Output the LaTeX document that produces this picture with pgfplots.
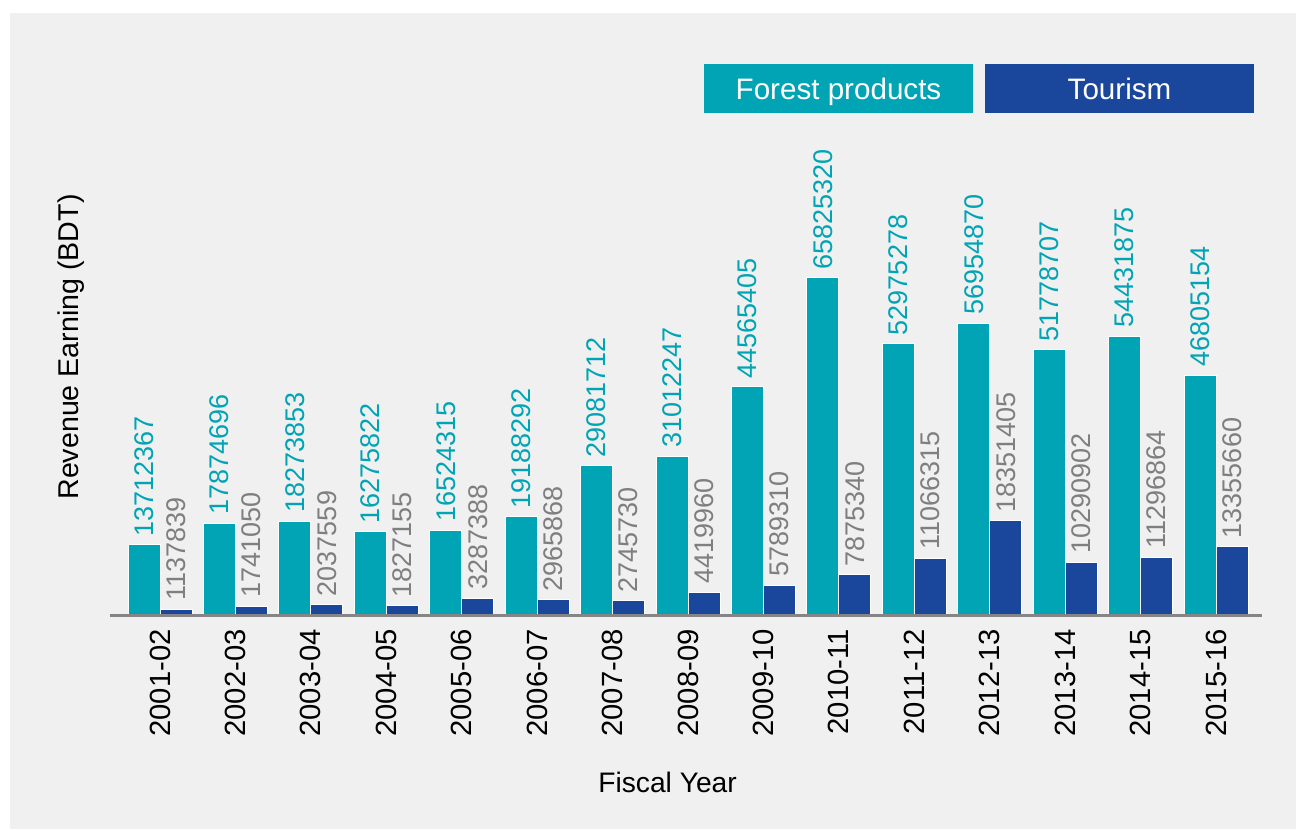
\documentclass[border=0pt]{standalone}
\usepackage{pgfplots}
\pgfplotsset{compat=1.18}
\usepackage{pgfplotstable}
\usepackage{fontspec}
\setmainfont{Liberation Sans}
\definecolor{forestc}{HTML}{00A4B5}
\definecolor{tourc}{HTML}{1A469C}
\definecolor{labgray}{HTML}{7F7F7F}
\definecolor{axisgray}{HTML}{858585}
\definecolor{bgc}{HTML}{F0F0F0}

\pgfplotstableread{
x y
0 13712367
1 17874696
2 18273853
3 16275822
4 16524315
5 19188292
6 29081712
7 31012247
8 44565405
9 65825320
10 52975278
11 56954870
12 51778707
13 54431875
14 46805154
}\forestdata

\pgfplotstableread{
x y
0 1137839
1 1741050
2 2037559
3 1827155
4 3287388
5 2965868
6 2745730
7 4419960
8 5789310
9 7875340
10 11066315
11 18351405
12 10290902
13 11296864
14 13355660
}\tourdata

\begin{document}
\begin{tikzpicture}
\fill[white] (0,0) rectangle (648pt,-415pt);
\fill[bgc] (5pt,-6.5pt) rectangle (648pt,-414.5pt);
\begin{axis}[
  at={(55pt,-307.5pt)}, anchor=south west,
  scale only axis, width=576pt, height=242.5pt,
  xmin=-0.663, xmax=14.61, ymin=0, ymax=94.65e6,
  axis x line=bottom, axis y line=left,
  axis line style={-},
  x axis line style={draw=axisgray, line width=1.5pt},
  y axis line style={draw=none},
  axis on top=true,
  clip=false,
  ytick=\empty,
  xtick={0,...,14},
  xticklabels={2001-02,2002-03,2003-04,2004-05,2005-06,2006-07,2007-08,2008-09,2009-10,2010-11,2011-12,2012-13,2013-14,2014-15,2015-16},
  major tick length=0pt,
  xticklabel shift=7pt,
  xticklabel style={rotate=90, anchor=east, inner sep=0pt, font=\fontsize{14.6}{17}\selectfont, text=black},
  xlabel={Fiscal Year},
  xlabel style={at={(rel axis cs:0.484,-0.346)}, anchor=center, font=\fontsize{14.1}{17}\selectfont},
  ylabel={Revenue Earning (BDT)},
  ylabel style={at={(rel axis cs:-0.0339,0.5526)}, anchor=center, rotate=0, font=\fontsize{14.3}{17}\selectfont},
  ybar, bar width=16pt,
  point meta=explicit symbolic,
  nodes near coords,
  every node near coord/.append style={rotate=90, anchor=west, inner xsep=4pt, inner ysep=0pt, font=\fontsize{13.5}{16}\selectfont},
]
\addplot[fill=forestc, draw=white, line width=0.5pt, bar shift=-8pt,
  every node near coord/.append style={text=forestc}]
  table[x=x, y=y, meta=y] {\forestdata};
\addplot[fill=tourc, draw=white, line width=0.5pt, bar shift=8pt,
  every node near coord/.append style={text=labgray}]
  table[x=x, y=y, meta=y] {\tourdata};
\end{axis}
\node[fill=forestc, minimum width=134.5pt, minimum height=24.5pt, inner sep=0pt, text=white, text height=12.5pt, text depth=1.5pt, font=\fontsize{14.8}{17}\selectfont] at (419.25pt,-44.25pt) {Forest products};
\node[fill=tourc, minimum width=134.5pt, minimum height=24.5pt, inner sep=0pt, text=white, text height=12.5pt, text depth=1.5pt, font=\fontsize{14.8}{17}\selectfont] at (559.75pt,-44.25pt) {Tourism};
\end{tikzpicture}
\end{document}
